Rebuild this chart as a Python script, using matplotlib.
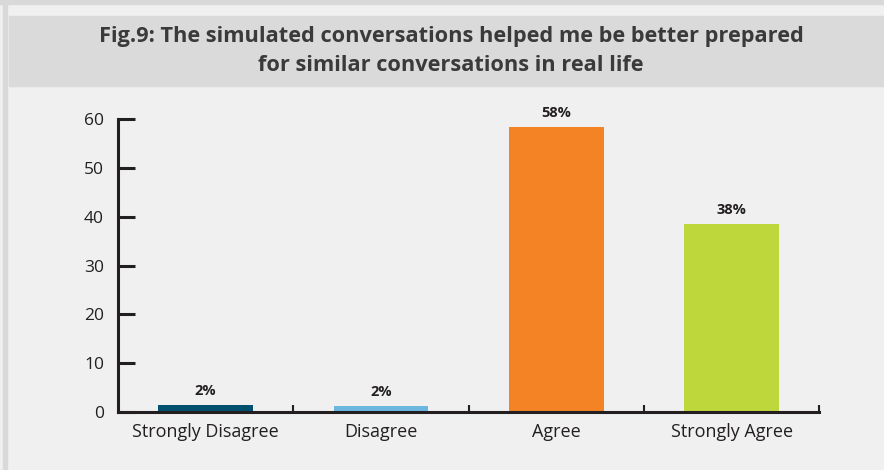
import matplotlib.pyplot as plt
import matplotlib.patches as patches

# survey answers (percent)
categories = ['Strongly Disagree', 'Disagree', 'Agree', 'Strongly Agree']
values = [1.5, 1.3, 58.4, 38.5]
labels = ['2%', '2%', '58%', '38%']
colors = ['#00506f', '#6cb7df', '#f48325', '#bed73b']
title = 'Fig.9: The simulated conversations helped me be better prepared\nfor similar conversations in real life'

plt.rcParams['font.family'] = ['Open Sans', 'DejaVu Sans']

fig = plt.figure(figsize=(8.84, 4.7), dpi=100)
fig.patch.set_facecolor('#eff0ef')
W, H = 884., 470.
# outer frame + title band
fig.patches.append(patches.Rectangle((0, 1-4/H), 1, 4/H, transform=fig.transFigure, color='#d9d9d9', zorder=0))
fig.patches.append(patches.Rectangle((3/W, 0), 4/W, 1, transform=fig.transFigure, color='#d9d9d9', zorder=0))
fig.patches.append(patches.Rectangle((9/W, 1-86/H), 1, 70/H, transform=fig.transFigure, color='#dadada', zorder=0))
fig.text(451/W, 1-51/H, title, ha='center', va='center', fontsize=15.7, fontweight='bold',
         color='#3a3a3a', family=['Liberation Sans Narrow', 'Open Sans', 'DejaVu Sans'], linespacing=1.5)

ax = fig.add_axes([118/W, 58/H, (819.5-118)/W, (412-119)/H])
ax.set_facecolor('#eff0ef')
x = range(len(categories))
ax.bar(x, values, width=0.54, color=colors, zorder=1)
for xi, v, lab in zip(x, values, labels):
    ax.annotate(lab, (xi, v), xytext=(0, 5), textcoords='offset points', ha='center', va='bottom',
                fontsize=10.5, fontweight='bold', color='#231f20')

ax.set_xlim(-0.5, 3.5)
ax.set_ylim(0, 60)
for s in ['top', 'right']:
    ax.spines[s].set_visible(False)
for s in ['left', 'bottom']:
    ax.spines[s].set_linewidth(2.2)
    ax.spines[s].set_color('#231f20')
ax.set_yticks(range(0, 61, 10))
ax.tick_params(axis='y', direction='in', length=12, width=2.2, color='#231f20',
               labelsize=12.5, labelcolor='#231f20', pad=10)
ax.set_xticks(list(x))
ax.set_xticklabels(categories)
ax.tick_params(axis='x', which='major', length=0, labelsize=13, labelcolor='#231f20', pad=8)
ax.set_xticks([0.5, 1.5, 2.5, 3.5], minor=True)
ax.tick_params(axis='x', which='minor', direction='in', length=5, width=1.5, color='#231f20')

fig.savefig('out.png', dpi=100, facecolor=fig.get_facecolor())
